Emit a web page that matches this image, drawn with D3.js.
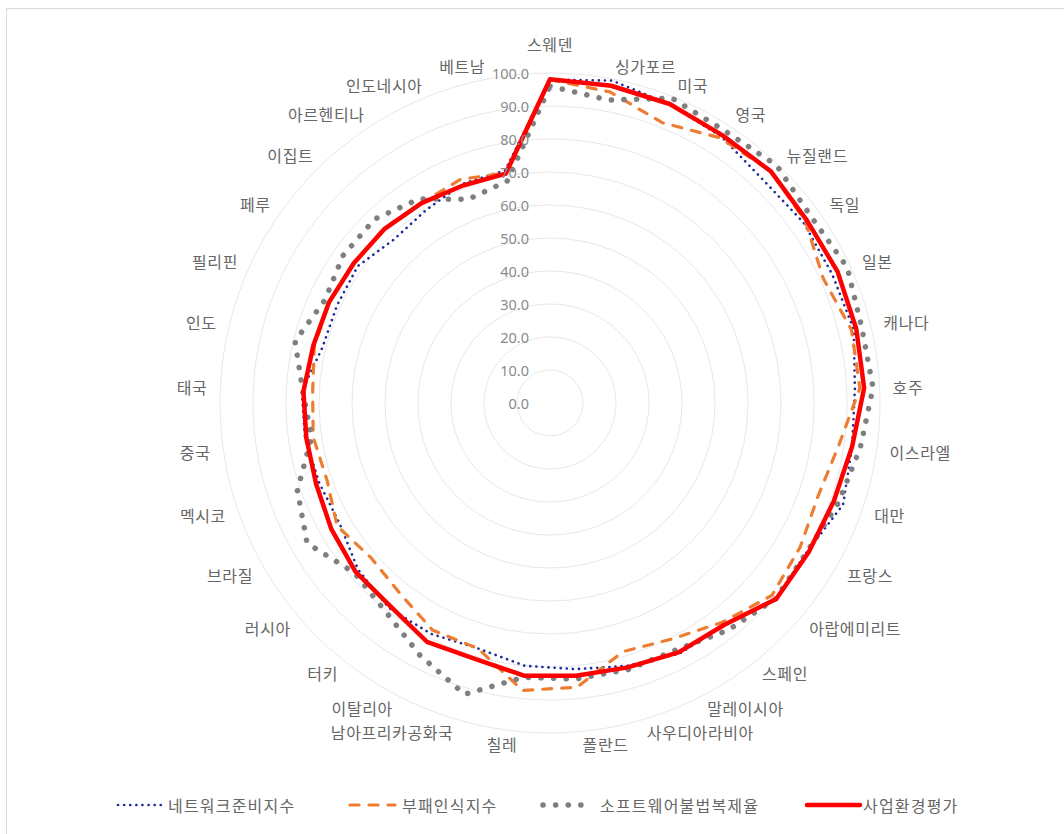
<!DOCTYPE html>
<html>
<head>
<meta charset="utf-8">
<script src="https://cdn.jsdelivr.net/npm/d3@7"></script>
<style>
  html, body { margin: 0; padding: 0; background: #fff; }
  svg text { font-family: "Noto Sans CJK KR", "Noto Sans", sans-serif; }
</style>
</head>
<body>
<svg id="chart" width="1064" height="834"></svg>
<script>
const categories = ["스웨덴","싱가포르","미국","영국","뉴질랜드","독일","일본","캐나다","호주","이스라엘","대만","프랑스","아랍에미리트","스페인","말레이시아","사우디아라비아","폴란드","칠레","남아프리카공화국","이탈리아","터키","러시아","브라질","멕시코","중국","태국","인도","필리핀","페루","이집트","아르헨티나","인도네시아","베트남"];

const networkReadiness = [98, 99.5, 97.5, 96, 93.5, 94.3, 94, 94.7, 92.5, 92.5, 94, 90, 90.5, 85.5, 85.5, 83, 81, 80, 77.5, 78.7, 79, 77, 73.5, 74, 75, 75.3, 71, 71, 71.5, 68.5, 69.5, 71.5, 71.8];
const corruptionIndex = [98, 96, 91.5, 95.5, 97, 95, 91, 94, 94, 88.5, 86, 87.5, 89, 84.5, 80.5, 78.5, 86.5, 87.5, 77.5, 77.5, 73.5, 71.7, 74.5, 71.5, 72.5, 72, 73.5, 73.5, 73, 73, 72, 73, 71];
const softwarePiracy = [96, 93.5, 99.5, 98, 99.5, 97.2, 99, 97.2, 98, 95, 92.5, 90, 90.5, 87.5, 84, 84.2, 84, 83.5, 92, 86, 80.5, 78.5, 85, 81, 73, 75, 79.5, 75, 77, 77, 73.5, 66.5, 68.5];
const businessEnv = [98.1, 97.9, 97.6, 96.5, 97, 95.5, 95.8, 95.5, 95.3, 92.5, 91, 90.5, 90.7, 85.5, 85, 83.5, 83, 83, 80.8, 81.4, 78.3, 78, 76.5, 75, 74.6, 74.8, 73.8, 73.6, 73, 72.8, 72, 71, 70.8];

const seriesNames = ["네트워크준비지수", "부패인식지수", "소프트웨어불법복제율", "사업환경평가"];
const tickValues = [0, 10, 20, 30, 40, 50, 60, 70, 80, 90, 100];

const svg = d3.select("#chart");
const W = 1064, H = 834;
const cx = 550, cy = 403;

// chart border
svg.append("rect").attr("x", 6.5).attr("y", 8.5).attr("width", W - 6).attr("height", H - 8)
  .attr("fill", "#fff").attr("stroke", "#d9d9d9").attr("stroke-width", 1);

const r = d3.scaleLinear().domain([0, 100]).range([0, 330]);
const angle = d3.scalePoint().domain(categories).range([0, 2 * Math.PI * (categories.length) / categories.length]).padding(0);
const step = 2 * Math.PI / categories.length;
const ang = i => i * step;

const g = svg.append("g").attr("transform", `translate(${cx},${cy})`);

// grid rings
g.selectAll("circle.ring").data(tickValues.filter(t => t > 0)).enter().append("circle")
  .attr("class", "ring").attr("r", d => r(d))
  .attr("fill", "none").attr("stroke", "#e8e8e8").attr("stroke-width", 1);

// series
const series = [
  { name: seriesNames[0], values: networkReadiness, color: "#1f2a9a", width: 2.6, dash: "0.1 6", cap: "round" },
  { name: seriesNames[1], values: corruptionIndex, color: "#ED7D31", width: 3.2, dash: "9 10", cap: "round" },
  { name: seriesNames[2], values: softwarePiracy, color: "#7f7f7f", width: 5.5, dash: "0.1 12.5", cap: "round" },
  { name: seriesNames[3], values: businessEnv, color: "#ff0000", width: 4.5, dash: null, cap: "round" }
];

const line = d3.lineRadial()
  .angle((d, i) => ang(i))
  .radius(d => r(d))
  .curve(d3.curveLinearClosed);

series.forEach(s => {
  const p = g.append("path").datum(s.values)
    .attr("d", line)
    .attr("fill", "none")
    .attr("stroke", s.color)
    .attr("stroke-width", s.width)
    .attr("stroke-linejoin", "round")
    .attr("stroke-linecap", s.cap);
  if (s.dash) p.attr("stroke-dasharray", s.dash);
});

// tick labels
g.selectAll("text.tick").data(tickValues).enter().append("text")
  .attr("class", "tick")
  .attr("x", -21)
  .attr("y", d => -r(d))
  .attr("text-anchor", "end")
  .attr("dominant-baseline", "central")
  .attr("font-size", 14.5)
  .style("font-family", "'Noto Sans', sans-serif")
  .attr("fill", "#8a8a8a")
  .text(d => d3.format(".1f")(d));

// category labels
const R = 343;
g.selectAll("text.cat").data(categories).enter().append("text")
  .attr("class", "cat")
  .each(function (d, i) {
    const a = ang(i);
    const s = Math.sin(a), c = Math.cos(a);
    let x = R * s, y = -R * c;
    let anchor = "middle";
    if (s > 0.01) anchor = "start";
    else if (s < -0.01) anchor = "end";
    if (Math.abs(s) <= 0.01 && c > 0) y -= 16;
    d3.select(this).attr("x", x).attr("y", y).attr("text-anchor", anchor);
  })
  .attr("dominant-baseline", "central")
  .attr("font-size", 16)
  .attr("letter-spacing", 0.6)
  .attr("fill", "#666")
  .text(d => d);

// legend
const legendItems = [
  { s: series[0], x0: 118, x1: 163, tx: 168 },
  { s: series[1], x0: 350, x1: 395, tx: 402 },
  { s: series[2], x0: 543, x1: 592, tx: 600 },
  { s: series[3], x0: 807, x1: 860, tx: 863 }
];
const ly = 805;
const lg = svg.append("g");
legendItems.forEach(it => {
  const p = lg.append("line").attr("x1", it.x0).attr("x2", it.x1).attr("y1", ly).attr("y2", ly)
    .attr("stroke", it.s.color).attr("stroke-width", it.s.width).attr("stroke-linecap", it.s.cap);
  if (it.s.dash) p.attr("stroke-dasharray", it.s.dash);
  lg.append("text").attr("x", it.tx).attr("y", ly).attr("dominant-baseline", "central")
    .attr("font-size", 16).attr("letter-spacing", 1.2).attr("fill", "#666").text(it.s.name);
});
</script>
</body>
</html>
